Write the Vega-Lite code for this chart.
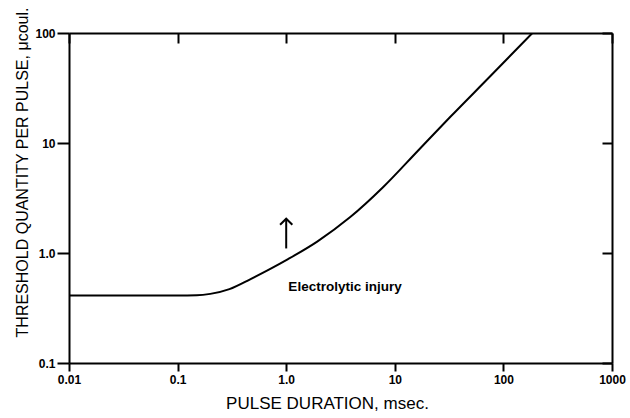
{
  "$schema": "https://vega.github.io/schema/vega-lite/v6.json",
  "width": 543,
  "height": 330,
  "autosize": "none",
  "padding": {"left": 69, "top": 33, "right": 18, "bottom": 55},
  "background": "white",
  "config": {
    "view": {"stroke": null},
    "axis": {"domainColor": "black", "domainWidth": 2, "tickColor": "black", "tickWidth": 2, "grid": false,
             "labelColor": "black", "labelFont": "Liberation Sans", "labelFontSize": 12, "labelFontWeight": "bold",
             "labelFlush": false, "labelOverlap": false,
             "titleColor": "black", "titleFont": "Liberation Sans", "titleFontSize": 17, "titleFontWeight": "normal"}
  },
  "datasets": {
    "curve": [
      {"t": 0.01, "q": 0.41},
      {"t": 0.1, "q": 0.41},
      {"t": 0.15, "q": 0.412},
      {"t": 0.2, "q": 0.425},
      {"t": 0.3, "q": 0.47},
      {"t": 0.47, "q": 0.58},
      {"t": 0.7, "q": 0.71},
      {"t": 1.04, "q": 0.88},
      {"t": 1.93, "q": 1.27},
      {"t": 3.89, "q": 2.12},
      {"t": 7.83, "q": 3.98},
      {"t": 16.5, "q": 8.6},
      {"t": 32.5, "q": 17.3},
      {"t": 76, "q": 40.6},
      {"t": 185, "q": 100}
    ],
    "arrow": [{"t": 1.0, "q0": 1.1, "q1": 2.05}],
    "label": [{"t": 3.48, "q": 0.49, "text": "Electrolytic injury"}]
  },
  "resolve": {"axis": {"x": "independent", "y": "independent"}},
  "layer": [
    {
      "data": {"name": "curve"},
      "mark": {"type": "line", "color": "black", "strokeWidth": 2, "interpolate": "monotone", "clip": true},
      "encoding": {
        "x": {"field": "t", "type": "quantitative",
              "scale": {"type": "log", "domain": [0.01, 1000], "nice": false},
              "axis": {"orient": "bottom", "values": [0.01, 0.1, 1, 10, 100, 1000], "tickSize": 8, "labelPadding": 3,
                       "labelExpr": "datum.value==0.01?'0.01':datum.value==0.1?'0.1':datum.value==1?'1.0':datum.value==10?'10':datum.value==100?'100':'1000'",
                       "title": "PULSE  DURATION,  msec.", "titlePadding": 10, "titleX": 258}},
        "y": {"field": "q", "type": "quantitative",
              "scale": {"type": "log", "domain": [0.1, 100], "nice": false},
              "axis": {"orient": "left", "values": [0.1, 1, 10, 100], "tickSize": 12, "labelPadding": 2,
                       "labelExpr": "datum.value==0.1?'0.1':datum.value==1?'1.0':datum.value==10?'10':'100'",
                       "title": "THRESHOLD  QUANTITY  PER  PULSE,  μcoul.", "titleFontSize": 16, "titleX": -47, "titleY": 139, "titleAlign": "center", "titleAngle": -90, "titleBaseline": "middle"}}
      }
    },
    {
      "data": {"name": "arrow"},
      "mark": {"type": "rule", "color": "black", "strokeWidth": 2},
      "encoding": {
        "x": {"field": "t", "type": "quantitative", "axis": null},
        "y": {"field": "q0", "type": "quantitative", "axis": null},
        "y2": {"field": "q1"}
      }
    },
    {
      "data": {"name": "arrow"},
      "mark": {"type": "point", "shape": "M-1,1L0,0L1,1", "filled": false, "stroke": "black", "strokeWidth": 2, "size": 150, "opacity": 1},
      "encoding": {
        "x": {"field": "t", "type": "quantitative", "axis": null},
        "y": {"field": "q1", "type": "quantitative", "axis": null}
      }
    },
    {
      "data": {"name": "label"},
      "mark": {"type": "text", "font": "Liberation Sans", "fontSize": 13.5, "fontWeight": "bold", "color": "black", "align": "center", "baseline": "middle"},
      "encoding": {
        "x": {"field": "t", "type": "quantitative",
              "axis": {"orient": "top", "values": [0.01, 0.1, 1, 10, 100, 1000], "tickSize": -10, "labels": false, "title": null}},
        "y": {"field": "q", "type": "quantitative",
              "axis": {"orient": "right", "values": [0.1, 1, 10, 100], "tickSize": -10, "labels": false, "title": null}},
        "text": {"field": "text"}
      }
    }
  ]
}
